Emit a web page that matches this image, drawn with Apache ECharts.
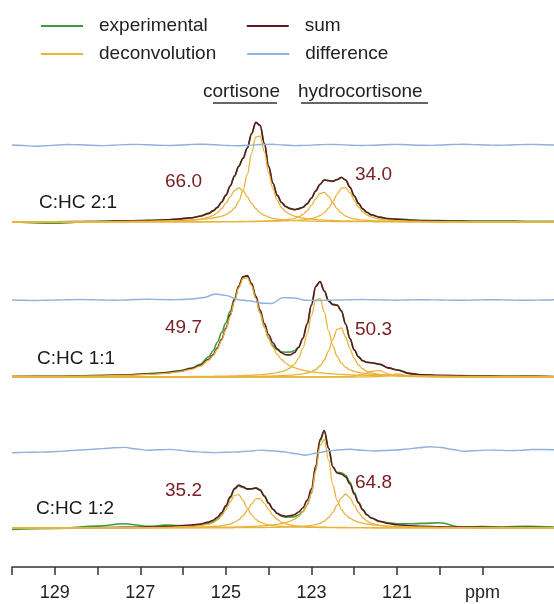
<!DOCTYPE html>
<html>
<head>
<meta charset="utf-8">
<script src="https://cdn.jsdelivr.net/npm/echarts@6.0.0/dist/echarts.min.js"></script>
<style>
html, body { margin: 0; padding: 0; background: #fff; }
#main { width: 554px; height: 604px; }
</style>
</head>
<body>
<div id="main"></div>
<script>
// sample positions (ppm) for experimental / sum / deconvolution curves
var ppm = [130,129,128,127.4,126.8,126.4,126.1,125.8,125.6,125.4,
  125.3,125.2,125.1,125.0,124.9,124.8,124.7,124.6,124.5,124.4,
  124.3,124.2,124.1,124.0,123.9,123.8,123.7,123.6,123.5,123.4,
  123.3,123.2,123.1,123.0,122.9,122.8,122.7,122.6,122.5,122.4,
  122.3,122.2,122.1,122.0,121.9,121.8,121.7,121.6,121.4,121.2,
  121.0,120.7,120.4,120.0,119.5,119.0,118.5,118.0,117.33];

// sample positions (ppm) for the difference curves
var diffPpm = [130,129.74,129.47,129.21,128.94,128.68,128.42,128.15,127.89,127.62,
  127.36,127.1,126.83,126.57,126.3,126.04,125.78,125.51,125.25,124.98,
  124.72,124.46,124.19,123.93,123.66,123.4,123.14,122.87,122.61,122.34,
  122.08,121.82,121.55,121.29,121.02,120.76,120.5,120.23,119.97,119.7,
  119.44,119.18,118.91,118.65,118.38,118.12,117.86,117.59,117.33];

// axis ticks and labels
var tickValues = [130,129,128,127,126,125,124,123,122,121,120,119];
var labelValues = [129,127,125,123,121,119];

// ---- C:HC 2:1 ----
var exp21 = [0.3,-1.2,0.8,1.0,1.8,2.0,3.2,4.1,6.0,8.4,
  11.4,14.4,20.2,26.6,36.2,45.6,55.9,63.5,74.0,88.0,
  99.8,96.4,78.8,55.2,39.0,26.6,19.8,15.2,13.7,12.2,
  13.4,14.5,18.5,23.7,31.3,37.5,42.3,41.2,40.9,42.2,
  44.8,41.7,35.0,25.8,18.9,12.8,9.8,6.9,4.9,3.1,
  3.0,2.2,1.6,1.4,1.2,0.9,1.0,0.8,0.8];
var sum21 = [0.1,0.3,0.5,1.1,1.5,2.1,3.0,4.3,5.8,8.6,
  11.1,14.6,19.8,26.9,35.8,46.0,55.5,63.8,73.7,88.4,
  99.6,96.7,78.4,55.6,38.7,26.9,19.5,15.5,13.4,12.5,
  13.1,14.8,18.1,24.0,31.0,37.8,42.0,41.5,40.6,42.5,
  44.5,42.0,34.7,26.1,18.6,13.1,9.5,7.2,4.6,3.4,
  2.7,1.8,1.3,0.9,0.7,0.4,0.4,0.3,0.2];
var dec21a = [0,0.1,0.2,0.4,0.6,0.9,1.3,2,2.9,4.8,
  6.6,9.3,13.4,18.8,25.2,31.4,34,31.4,25.2,18.8,
  13.4,9.3,6.6,4.8,3.6,2.9,2.3,2,1.7,1.4,
  1.3,1.1,1,0.9,0.8,0.7,0.6,0.6,0.5,0.5,
  0.4,0.4,0.4,0.4,0.3,0.3,0.3,0.3,0.2,0.2,
  0.2,0.1,0.1,0.1,0,0,0,0,0];
var dec21b = [0.1,0.2,0.3,0.5,0.7,1.0,1.4,1.9,2.5,3.3,
  4.0,4.8,5.8,7.4,9.9,13.9,20.6,31.5,47.5,68.5,
  85.0,86.0,70.2,49.0,33.0,21.6,14.4,10.2,7.6,5.9,
  4.9,4.0,3.3,2.9,2.5,2.2,1.9,1.7,1.5,1.4,
  1.2,1.1,1.0,0.9,0.9,0.8,0.7,0.7,0.6,0.5,
  0.5,0.4,0.3,0.2,0.2,0.1,0.1,0.1,0.1];
var dec21c = [0,0,0,0.1,0.1,0.1,0.2,0.2,0.2,0.3,
  0.3,0.3,0.3,0.4,0.4,0.4,0.5,0.5,0.6,0.6,
  0.7,0.8,1.0,1.1,1.3,1.5,1.8,2.2,2.8,3.7,
  5.1,7.5,11.1,16.8,23.1,28.5,29.7,25.7,19.2,13.3,
  8.8,5.9,4.2,3.1,2.4,1.9,1.6,1.3,1.0,0.8,
  0.6,0.4,0.3,0.2,0.2,0.1,0.1,0.1,0];
var dec21d = [0,0,0,0.1,0.1,0.1,0.1,0.2,0.2,0.2,
  0.2,0.2,0.3,0.3,0.3,0.3,0.4,0.4,0.4,0.5,
  0.5,0.6,0.6,0.7,0.8,0.9,1.0,1.1,1.3,1.5,
  1.8,2.2,2.7,3.4,4.6,6.4,9.4,13.9,20.2,27.6,
  33.8,34.4,29.1,21.7,15.0,10.1,6.9,4.9,2.8,1.9,
  1.4,0.9,0.6,0.4,0.3,0.2,0.2,0.1,0.1];
var diff21 = [0,-0.5,-1.2,-0.8,0,0.5,0.3,-0.3,-0.6,-0.2,
  0.4,0.6,0.2,-0.3,-0.5,0,0.6,0.8,0.3,-0.5,
  -0.8,-0.2,0.5,0.7,0,-0.6,-0.4,0.2,0.6,0.4,
  -0.2,-0.5,-0.3,0.3,0.6,0.3,-0.2,-0.4,0,0.5,
  0.7,0.4,0,-0.3,0,0.4,0.6,0.3,0];

// ---- C:HC 1:1 ----
var exp11 = [0.5,0.5,1.6,1.9,3.5,4.5,6.3,8.9,12.8,20.2,
  26.3,34.8,44.4,54.3,65.6,78.4,91.0,100.0,100.9,92.8,
  79.2,64.4,50.1,38.6,31.2,27.2,25.2,24.7,25.0,26.2,
  30.0,38.8,52.8,71.8,90.5,95.5,86.2,76.4,72.7,72.1,
  66.4,53.0,38.4,27.0,19.9,16.2,14.8,14.3,12.6,9.1,
  7.3,3.6,2.0,1.3,1.4,1.2,0.5,0.6,0.3];
var sum11 = [0.5,0.8,1.3,1.9,3.0,4.1,5.8,8.4,11.6,17.7,
  22.3,29.0,37.8,48.8,62.1,76.9,90.7,100.3,101.4,93.8,
  81.0,66.9,53.4,42.3,34.2,28.2,24.2,22.2,22.0,24.2,
  29.5,38.8,53.3,72.1,90.5,95.5,86.0,76.1,72.4,71.7,
  65.9,52.7,38.4,27.2,20.2,16.2,14.6,14.3,12.8,9.1,
  7.0,3.4,2.2,1.6,1.2,0.9,0.7,0.6,0.5];
var dec11a = [0.5,0.7,1.1,1.6,2.6,3.7,5.2,7.7,10.8,16.8,
  21.3,27.9,36.6,47.5,60.7,75.4,89.0,98.4,99.3,91.4,
  78.3,63.9,50.0,38.3,29.6,22.6,17.5,13.9,11.2,9.4,
  7.9,6.8,6.0,5.3,4.7,4.2,3.8,3.4,3.1,2.8,
  2.6,2.4,2.2,2.0,1.9,1.8,1.6,1.5,1.3,1.2,
  1.1,0.9,0.8,0.7,0.5,0.5,0.4,0.3,0.3];
var dec11b = [0.1,0.1,0.2,0.2,0.3,0.3,0.4,0.5,0.6,0.7,
  0.7,0.8,0.9,0.9,1.0,1.1,1.3,1.4,1.6,1.8,
  2.0,2.3,2.6,3.1,3.6,4.4,5.4,6.8,9.0,12.7,
  18.9,28.8,43.2,61.4,76.8,78.5,65.0,46.4,31.4,20.6,
  13.8,9.7,7.2,5.6,4.6,3.8,3.2,2.7,2.0,1.6,
  1.3,1.0,0.7,0.6,0.4,0.3,0.3,0.2,0.2];
var dec11c = [0,0,0.1,0.1,0.1,0.1,0.2,0.2,0.2,0.3,
  0.3,0.3,0.3,0.4,0.4,0.4,0.5,0.5,0.6,0.6,
  0.7,0.7,0.8,0.9,1.0,1.2,1.3,1.5,1.8,2.1,
  2.6,3.1,4.0,5.3,7.5,11.0,17.0,26.0,37.6,47.9,
  49.0,40.0,28.2,18.5,12.0,8.0,5.6,4.2,2.7,1.9,
  1.4,0.9,0.7,0.5,0.3,0.2,0.2,0.1,0.1];
var dec11d = [0,0,0,0,0,0,0,0,0,0,
  0,0,0,0,0,0,0,0,0,0,
  0,0,0,0,0,0,0,0,0,0,
  0.1,0.1,0.1,0.1,0.2,0.2,0.2,0.2,0.3,0.3,
  0.4,0.5,0.7,1.0,1.6,2.5,4.0,5.7,6.4,3.1,
  1.2,0.5,0.3,0.2,0.1,0,0,0,0];
var dec11e = [0,0,0,0,0,0,0,0,0,0,
  0,0,0,0,0,0,0,0,0,0,
  0,0,0,0,0,0,0,0,0,0,
  0,0,0,0,0,0,0,0,0,0,
  0,0,0,0,0.1,0.1,0.2,0.2,0.4,1.3,
  3.0,1.0,0.3,0.1,0,0,0,0,0];
var diff11 = [0,-0.3,-0.5,-0.3,0,0.3,0.5,0.3,0,-0.3,
  0,0.5,0.7,0.5,0.3,0.5,1.0,2.5,6.0,4.4,
  0.3,-0.8,-3.0,-3.5,2.4,2.0,-0.3,-0.5,-0.3,0,
  0.3,0.5,0.3,0,-0.3,0,0.3,0.2,0,-0.3,
  -0.3,0,0.3,0.3,0,-0.3,-0.3,0,0.2];

// ---- C:HC 1:2 ----
var exp12 = [-1.5,-0.5,1.9,4.2,1.7,2.9,2.5,2.6,3.1,4.4,
  6.1,9.2,14.1,21.3,30.1,38.5,42.0,40.5,38.7,39.2,
  40.3,38.5,32.5,25.2,18.8,14.3,11.8,10.8,11.0,11.3,
  13.0,16.5,23.3,35.1,59.2,86.6,96.7,79.8,61.2,55.8,
  55.3,52.6,45.7,35.5,26.0,18.6,13.2,10.0,6.8,5.1,
  4.2,4.2,4.6,5.2,0.9,1.4,1.0,1.7,0.9];
var sum12 = [0.2,0.2,0.4,0.6,1.0,1.4,2.0,2.9,3.9,5.9,
  7.8,10.8,15.5,22.5,31.2,39.5,43.0,41.3,39.1,39.2,
  39.9,37.7,31.5,24.6,18.8,14.8,12.6,11.8,12.2,13.3,
  16.0,20.3,27.6,39.1,62.2,88.4,97.5,80.0,61.0,55.0,
  54.0,51.0,44.0,34.0,25.0,18.0,13.0,10.0,6.5,4.5,
  3.2,2.2,1.6,1.2,0.9,0.6,0.4,0.4,0.2];
var dec12a = [0.1,0.1,0.2,0.3,0.4,0.7,1.0,1.6,2.3,3.8,
  5.4,8.0,12.2,18.4,26.1,32.6,33.4,27.6,19.7,13.3,
  8.7,5.8,4.1,3.1,2.4,1.9,1.6,1.4,1.2,1.0,
  0.9,0.8,0.7,0.6,0.6,0.5,0.5,0.4,0.4,0.4,
  0.3,0.3,0.3,0.3,0.3,0.3,0.2,0.2,0.2,0.2,
  0.2,0.1,0.1,0.1,0.1,0.1,0,0,0];
var dec12b = [0.1,0.1,0.1,0.2,0.3,0.4,0.5,0.8,1.0,1.3,
  1.6,1.9,2.3,3.0,4.0,5.6,8.2,12.2,17.6,24.0,
  29.1,29.4,24.6,18.3,12.7,8.5,5.8,4.1,3.1,2.4,
  1.9,1.6,1.3,1.2,1.0,0.9,0.8,0.7,0.6,0.5,
  0.5,0.5,0.4,0.4,0.3,0.3,0.3,0.3,0.2,0.2,
  0.2,0.2,0.1,0.1,0.1,0.1,0,0,0];
var dec12c = [0,0.1,0.1,0.1,0.2,0.3,0.3,0.4,0.5,0.6,
  0.7,0.7,0.8,0.9,0.9,1.0,1.1,1.2,1.4,1.5,
  1.7,2.0,2.3,2.6,3.1,3.7,4.4,5.4,6.8,8.7,
  11.7,16.2,23.5,34.7,57.2,82.3,88.5,67.9,43.0,27.7,
  18.6,13.2,9.8,7.5,5.9,4.8,4.0,3.2,2.4,1.8,
  1.4,1.0,0.8,0.6,0.4,0.3,0.2,0.2,0.1];
var dec12d = [0,0,0,0,0.1,0.1,0.1,0.1,0.1,0.2,
  0.2,0.2,0.2,0.2,0.2,0.3,0.3,0.3,0.4,0.4,
  0.4,0.5,0.5,0.6,0.6,0.7,0.8,0.9,1.1,1.2,
  1.5,1.7,2.1,2.6,3.4,4.7,6.8,10.3,15.7,22.8,
  30.4,34.0,30.4,22.8,15.7,10.3,6.8,4.7,2.6,1.7,
  1.2,0.8,0.6,0.4,0.3,0.2,0.1,0.1,0.1];
var diff12 = [-1.7,-1.4,-1.2,-1.0,-0.5,0.3,1.0,1.6,2.4,3.2,
  3.6,2.0,0.7,1.2,1.6,0.6,-0.5,-1.3,-1.6,-1.2,
  -1.0,-0.1,0.9,0.2,-0.8,-2.5,-4.2,-2.0,0,1.2,
  1.7,0.7,0,0.5,1.0,2.0,3.2,4.2,3.5,1.5,
  -0.3,0.3,0.9,0.8,0.4,0.6,1.5,1.5,1.2];

var panels = [
  { base: 345, exp: exp21, sum: sum21, decs: [dec21a, dec21b, dec21c, dec21d], diff: diff21 },
  { base: 190, exp: exp11, sum: sum11, decs: [dec11a, dec11b, dec11c, dec11d, dec11e], diff: diff11 },
  { base: 39,  exp: exp12, sum: sum12, decs: [dec12a, dec12b, dec12c, dec12d], diff: diff12 }
];
var diffLift = 77;

var C_EXP = '#3d9c3d', C_SUM = '#5e1a1e', C_DEC = '#e9b43c', C_DIFF = '#8fb1dd';
var FONT = '"Liberation Sans", Arial, sans-serif';

function curve(name, xs, ys, base, color, width, z) {
  return {
    name: name, type: 'line', z: z, silent: true,
    showSymbol: false, smooth: 0.35, smoothMonotone: 'x',
    lineStyle: { color: color, width: width },
    itemStyle: { color: color },
    data: xs.map(function (x, i) { return [x, base + ys[i]]; })
  };
}

var series = [];
panels.forEach(function (p) {
  series.push(curve('experimental', ppm, p.exp, p.base, C_EXP, 1.6, 2));
  series.push(curve('sum', ppm, p.sum, p.base, C_SUM, 1.6, 3));
  p.decs.forEach(function (d) {
    series.push(curve('deconvolution', ppm, d, p.base, C_DEC, 1.3, 4));
  });
  series.push(curve('difference', diffPpm, p.diff, p.base + diffLift, C_DIFF, 1.4, 5));
});

function txt(s, x, y, color) {
  return { type: 'text', x: x, y: y, silent: true,
    style: { text: s, fill: color, fontSize: 19, fontFamily: FONT, verticalAlign: 'middle' } };
}
function rule(x1, x2, y) {
  return { type: 'line', silent: true, shape: { x1: x1, y1: y, x2: x2, y2: y },
    style: { stroke: '#333', lineWidth: 1.6 } };
}

var myChart = echarts.init(document.getElementById('main'));
var option = {
  animation: false,
  grid: { left: 12, right: 0, top: 0, bottom: 37, containLabel: false },
  legend: [
    { data: ['experimental', 'sum'], left: 41, top: 16, padding: 0, icon: 'rect',
      itemWidth: 42, itemHeight: 2, itemGap: 39, selectedMode: false,
      textStyle: { fontSize: 19, fontFamily: FONT, color: '#222', lineHeight: 20, padding: [0, 0, 0, 11] } },
    { data: ['deconvolution', 'difference'], left: 41, top: 44, padding: 0, icon: 'rect',
      itemWidth: 42, itemHeight: 2, itemGap: 31, selectedMode: false,
      textStyle: { fontSize: 19, fontFamily: FONT, color: '#222', lineHeight: 20, padding: [0, 0, 0, 11] } }
  ],
  xAxis: {
    type: 'value', inverse: true, min: 117.33, max: 130,
    splitLine: { show: false },
    axisLine: { show: true, lineStyle: { color: '#333', width: 1.5 } },
    axisTick: { show: true, length: 8, customValues: tickValues, lineStyle: { color: '#333', width: 1.5 } },
    axisLabel: {
      customValues: labelValues, margin: 17, fontSize: 18, fontFamily: FONT, color: '#222',
      formatter: function (v) { return v === 119 ? 'ppm' : String(v); }
    }
  },
  yAxis: { type: 'value', min: 0, max: 567, show: false },
  graphic: [
    txt('cortisone', 203, 92, '#222'),
    txt('hydrocortisone', 298, 92, '#222'),
    rule(213, 277, 103),
    rule(301, 428, 103),
    txt('C:HC 2:1', 39, 203, '#1a1a1a'),
    txt('66.0', 165, 182, '#7b2025'),
    txt('34.0', 355, 175, '#7b2025'),
    txt('C:HC 1:1', 37, 359, '#1a1a1a'),
    txt('49.7', 165, 328, '#7b2025'),
    txt('50.3', 355, 330, '#7b2025'),
    txt('C:HC 1:2', 36, 509, '#1a1a1a'),
    txt('35.2', 165, 491, '#7b2025'),
    txt('64.8', 355, 483, '#7b2025')
  ],
  series: series
};
myChart.setOption(option);
</script>
</body>
</html>
